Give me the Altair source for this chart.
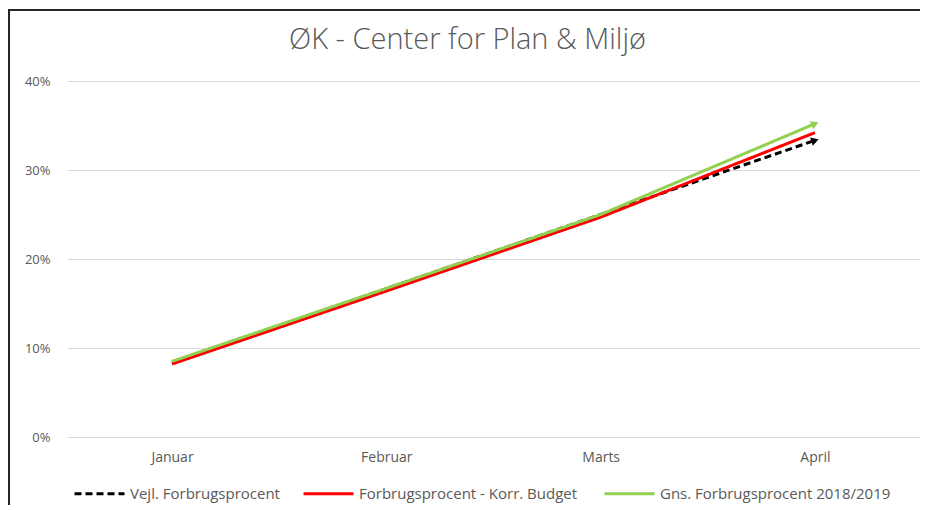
import altair as alt
import pandas as pd

months = ["Januar", "Februar", "Marts", "April"]
series_names = [
    "Vejl. Forbrugsprocent",
    "Forbrugsprocent  - Korr. Budget",
    "Gns. Forbrugsprocent 2018/2019",
]
vejl = [0.0833, 0.1667, 0.25, 0.3333]
korr = [0.082, 0.164, 0.247, 0.342]
gns = [0.085, 0.167, 0.250, 0.352]

rows = []
for name, vals in zip(series_names, [vejl, korr, gns]):
    for i, (m, v) in enumerate(zip(months, vals)):
        rows.append({"Måned": m, "Serie": name, "Værdi": v, "order": i})
df = pd.DataFrame(rows)

colors = ["#000000", "#FF0000", "#92D050"]
dashes = [[7, 4], [1, 0], [1, 0]]
label_font = "Open Sans, sans-serif"

W, H = 853, 356

x_enc = alt.X("Måned:N", sort=months,
              scale=alt.Scale(type="point", padding=0.49),
              axis=alt.Axis(title=None, labelAngle=0, grid=False, domain=False,
                            ticks=False, labelPadding=13, labelFontSize=14,
                            labelColor="#595959", labelFont=label_font))
y_enc = alt.Y("Værdi:Q", scale=alt.Scale(domain=[0, 0.4]),
              axis=alt.Axis(title=None, format=".0%", values=[0, 0.1, 0.2, 0.3, 0.4],
                            domain=False, ticks=False, labelPadding=17,
                            labelFontSize=13, labelColor="#595959",
                            labelFont=label_font, gridColor="#D9D9D9",
                            gridWidth=1))

lines = alt.Chart(df).mark_line(strokeWidth=3).encode(
    x=x_enc,
    y=y_enc,
    color=alt.Color("Serie:N", sort=series_names,
                    scale=alt.Scale(domain=series_names, range=colors),
                    legend=alt.Legend(title=None, orient="none", legendX=6, legendY=386,
                                      direction="horizontal", symbolType="stroke",
                                      symbolSize=2500, symbolStrokeWidth=3,
                                      labelFontSize=15, labelColor="#595959",
                                      labelFont=label_font, columnPadding=17,
                                      labelOffset=4, labelLimit=400)),
    strokeDash=alt.StrokeDash("Serie:N", sort=series_names,
                              scale=alt.Scale(domain=series_names, range=dashes),
                              legend=None),
    order=alt.Order("order:Q"),
)

arrow_df_filter = alt.FieldOneOfPredicate(field="Serie", oneOf=[series_names[0], series_names[2]])
arrows = alt.Chart(df).transform_filter(alt.datum.Måned == "April").transform_filter(
    arrow_df_filter
).mark_point(shape="triangle-right", filled=True, size=75, opacity=1).encode(
    x=alt.X("Måned:N", sort=months, scale=alt.Scale(type="point", padding=0.49)),
    y=alt.Y("Værdi:Q"),
    color=alt.Color("Serie:N", scale=alt.Scale(domain=series_names, range=colors), legend=None),
    angle=alt.Angle("Serie:N", scale=alt.Scale(domain=[series_names[0], series_names[2]],
                                               range=[341, 337]), legend=None),
)

frame_left = alt.Chart(df).mark_rule(color="#262626", strokeWidth=2).encode(
    x=alt.value(-58.5), y=alt.value(-71), y2=alt.value(H + 70))
frame_top = alt.Chart(df).mark_rule(color="#262626", strokeWidth=2).encode(
    x=alt.value(-59.5), x2=alt.value(W + 10), y=alt.value(-71))

chart = alt.layer(lines, arrows, frame_left, frame_top).properties(
    width=W, height=H,
    title=alt.TitleParams("ØK - Center for Plan & Miljø", fontSize=29,
                          font="Open Sans", fontWeight=300, color="#595959",
                          anchor="middle", dx=-26, offset=0, dy=69,
                          baseline="alphabetic"),
    autosize=alt.AutoSizeParams(type="none"),
    padding={"left": 59, "top": 73, "right": 0, "bottom": 68},
).configure_view(stroke=None).resolve_scale(color="shared")

chart.save("out.html", embed_options={"renderer": "svg", "actions": False})
